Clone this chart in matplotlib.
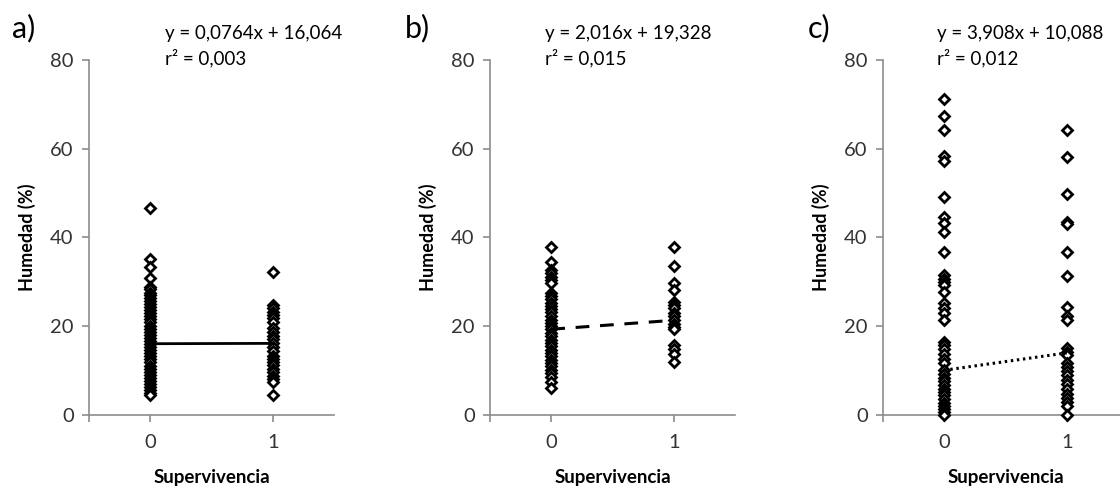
import numpy as np
import matplotlib.pyplot as plt

plt.rcParams['font.family'] = ['Lato', 'DejaVu Sans']

# --- datos: humedad (%) según supervivencia (0 = muerta, 1 = viva) ---
a_vivas0 = [46.6, 35.2, 33.4, 30.8, 28.9, 28.3, 27.6, 27.0, 26.4, 25.7, 25.1, 24.3,
            23.6, 22.9, 22.2, 21.6, 20.9, 20.1, 19.4, 18.8, 18.1, 17.4, 16.7, 16.0,
            15.3, 14.7, 14.0, 13.2, 12.6, 11.9, 11.1, 10.4, 9.7, 9.0, 8.3, 7.6,
            6.9, 6.3, 5.6, 5.0, 4.5]
a_vivas1 = [32.3, 24.9, 24.1, 23.3, 22.6, 21.8, 20.9, 19.6, 18.7, 17.9, 17.1, 16.2,
            15.3, 14.5, 13.4, 12.6, 11.9, 11.2, 10.4, 9.6, 8.8, 8.1, 7.4, 4.5]

b_vivas0 = [37.8, 34.4, 32.7, 31.9, 31.1, 30.4, 29.7, 27.4, 26.8, 26.1, 25.3, 24.6,
            23.8, 23.1, 22.3, 21.5, 20.8, 20.0, 19.3, 18.5, 17.8, 17.0, 16.3, 15.5,
            14.7, 14.0, 13.2, 12.5, 11.7, 11.0, 10.2, 9.4, 8.6, 7.5, 6.0]
b_vivas1 = [37.8, 33.6, 29.7, 28.2, 25.5, 24.9, 24.0, 23.0, 22.3, 21.4, 20.6, 19.8,
            19.3, 15.8, 14.9, 13.8, 11.9]

c_vivas0 = [71.1, 67.4, 64.2, 58.4, 57.3, 49.1, 44.7, 43.2, 41.3, 36.7, 31.5, 30.7,
            29.9, 29.4, 27.8, 25.2, 24.0, 22.9, 21.4, 16.5, 15.8, 14.9, 13.8, 12.6,
            11.7, 10.1, 9.3, 8.4, 7.6, 6.8, 5.9, 5.1, 4.4, 3.6, 2.8, 2.1, 1.4, 0.7, 0.0]
c_vivas1 = [64.2, 58.2, 49.8, 43.5, 43.0, 36.7, 31.3, 24.4, 22.2, 21.4, 15.0, 14.3,
            13.5, 11.7, 10.9, 10.0, 9.0, 7.8, 6.9, 5.9, 4.8, 3.8, 2.9, 2.0, 0.0]

# regresiones lineales (pendiente, ordenada, r2)
pendientes = [0.0764, 2.016, 3.908]
ordenadas = [16.064, 19.328, 10.088]
r2s = [0.003, 0.015, 0.012]

letras = ['a)', 'b)', 'c)']
estilos = ['-', (0, (4.5, 3.5)), (0, (0.8, 1.2))]
grosores = [2.0, 2.2, 2.2]

grupos = [(a_vivas0, a_vivas1), (b_vivas0, b_vivas1), (c_vivas0, c_vivas1)]

def coma(v, dec):
    return f'{v:.{dec}f}'.replace('.', ',')

fig = plt.figure(figsize=(11.2, 4.9), dpi=100)
gris = '#8c8c8c'
izq = [89, 490, 883]
eq_x = [165, 545, 937]
letra_x = [12, 405, 808]

for i in range(3):
    ax = fig.add_axes([izq[i] / 1120, 75 / 490, 245 / 1120, 355 / 490])
    g0, g1 = grupos[i]
    for x, vals in [(0, g0), (1, g1)]:
        ax.plot([x] * len(vals), vals, linestyle='none', marker='D', ms=4.6,
                mfc='white', mec='black', mew=2.0, clip_on=False, zorder=3)
    xs = np.array([0.0, 1.0])
    ax.plot(xs, pendientes[i] * xs + ordenadas[i], color='black',
            linestyle=estilos[i], lw=grosores[i], zorder=4)

    ax.set_xlim(-0.5, 1.5)
    ax.set_ylim(0, 80)
    ax.set_yticks([0, 20, 40, 60, 80])
    ax.set_xticks([-0.5, 0, 1])
    ax.set_xticklabels(['', '0', '1'])
    for s in ['top', 'right']:
        ax.spines[s].set_visible(False)
    for s in ['left', 'bottom']:
        ax.spines[s].set_color(gris)
        ax.spines[s].set_linewidth(1.2)
    ax.tick_params(colors=gris, length=5, width=1.2, labelcolor='#333333',
                   labelsize=14.5)
    ax.tick_params(axis='y', pad=6)
    ax.tick_params(axis='x', pad=9)
    ax.set_ylabel('Humedad (%)', fontsize=13, fontweight='bold', va='center')
    ax.yaxis.set_label_coords(-0.253, 0.5)
    ax.set_xlabel('Supervivencia', fontsize=13.5, fontweight='bold', va='center')
    ax.xaxis.set_label_coords(0.5, -0.175)

    fig.text(letra_x[i] / 1120, 1 - 28 / 490, letras[i], fontsize=22,
             va='center', ha='left')
    fig.text(eq_x[i] / 1120, 1 - 33 / 490,
             f'y = {coma(pendientes[i], 4 if i == 0 else 3)}x + {coma(ordenadas[i], 3)}',
             fontsize=13.5, va='center', ha='left')
    fig.text(eq_x[i] / 1120, 1 - 58 / 490, f'r² = {coma(r2s[i], 3)}',
             fontsize=13.5, va='center', ha='left')

fig.savefig('out.png', dpi=100)
